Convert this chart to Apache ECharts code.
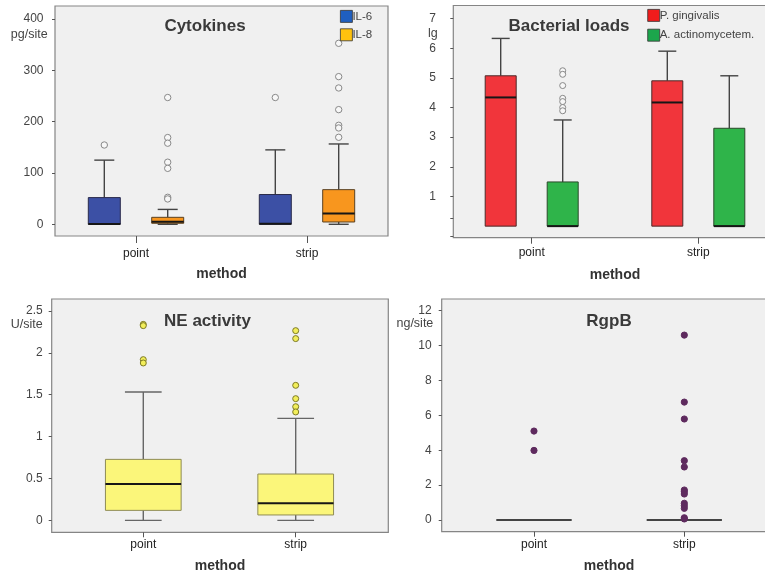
<!DOCTYPE html>
<html>
<head>
<meta charset="utf-8">
<script src="https://cdn.jsdelivr.net/npm/echarts@6/dist/echarts.min.js"></script>
<style>html,body{margin:0;padding:0;background:#fff;}#c{width:765px;height:576px;}</style>
</head>
<body>
<div id="c"></div>
<script>
// ---------- data ----------
const methods = ['point', 'strip'];
// box stats per method: [min, Q1, median, Q3, max]
// Cytokines (pg/site)
const il6Box = [[0, 0, 0.8, 52, 125], [0, 0, 1.3, 58, 145]];
const il8Box = [[0, 2, 5, 13.6, 29], [0, 4.5, 21, 67.5, 156.5]];
const il6Out = [[154.5], [247]];
const il8Out = [[247, 169, 158, 121, 109, 52.6, 49.4], [352.6, 287.7, 265.6, 223.4, 192.9, 187.7, 169.5]];
const cytoTicks = [0, 100, 200, 300, 400];
// Bacterial loads (lg)
const pgBox = [[0, 0, 4.34, 5.07, 6.33], [0, 0, 4.17, 4.9, 5.9]];
const aaBox = [[0, 0, 0, 1.49, 3.58], [0, 0, 0, 3.3, 5.07]];
const pgOut = [[], []];
const aaOut = [[5.24, 5.12, 4.74, 4.31, 4.2, 4.0, 3.89], []];
const bactLabels = [1, 2, 3, 4, 5, 6, 7];
const bactTicks = [-0.35, 0.27, 1, 2, 3, 4, 5, 6, 7];
// NE activity (U/site)
const neBox = [[0, 0.119, 0.434, 0.728, 1.533], [0, 0.064, 0.203, 0.553, 1.218]];
const neOut = [[2.34, 2.325, 1.919, 1.879], [2.265, 2.17, 1.612, 1.453, 1.357, 1.294]];
const neTicks = [0, 0.5, 1, 1.5, 2, 2.5];
// RgpB (ng/site)
const rgpBox = [[0, 0, 0, 0, 0], [0, 0, 0, 0, 0]];
const rgpOut = [[5.10, 3.99], [10.6, 6.76, 5.79, 3.4, 3.04, 1.72, 1.62, 1.49, 0.96, 0.82, 0.67, 0.13, 0.06]];
const rgpTicks = [0, 2, 4, 6, 8, 10, 12];

// ---------- helpers ----------
const FONT = 'Liberation Sans, Arial, sans-serif';
const boxData = b => b.map((s, i) => [i].concat(s));
const outData = o => [].concat(...o.map((arr, i) => arr.map(v => [i, v])));

function boxRenderer(o) {
  return function (params, api) {
    const x = api.value(0);
    const lo = api.coord([x, api.value(1)]);
    const q1 = api.coord([x, api.value(2)]);
    const md = api.coord([x, api.value(3)]);
    const q3 = api.coord([x, api.value(4)]);
    const hi = api.coord([x, api.value(5)]);
    const cx = lo[0] + o.offset, hw = o.width / 2, cw = o.cap / 2;
    const ws = { stroke: o.whisker, lineWidth: o.wlw || 1.4 };
    const ch = [];
    if (hi[1] < q3[1]) {
      ch.push({ type: 'line', shape: { x1: cx, y1: hi[1], x2: cx, y2: q3[1] }, style: ws });
      ch.push({ type: 'line', shape: { x1: cx - cw, y1: hi[1], x2: cx + cw, y2: hi[1] }, style: ws });
    }
    if (lo[1] > q1[1]) {
      ch.push({ type: 'line', shape: { x1: cx, y1: q1[1], x2: cx, y2: lo[1] }, style: ws });
      ch.push({ type: 'line', shape: { x1: cx - cw, y1: lo[1], x2: cx + cw, y2: lo[1] }, style: ws });
    }
    ch.push({ type: 'rect', shape: { x: cx - hw, y: q3[1], width: 2 * hw, height: q1[1] - q3[1] },
      style: { fill: o.fill, stroke: o.stroke, lineWidth: 1 } });
    ch.push({ type: 'line', shape: { x1: cx - hw, y1: md[1], x2: cx + hw, y2: md[1] },
      style: { stroke: o.median || '#161616', lineWidth: o.mlw || 2 } });
    return { type: 'group', children: ch };
  };
}
function dotRenderer(o) {
  return function (params, api) {
    const p = api.coord([api.value(0), api.value(1)]);
    return { type: 'circle', shape: { cx: p[0] + o.offset, cy: p[1], r: o.r },
      style: { fill: o.fill, stroke: o.stroke, lineWidth: o.lw || 1 } };
  };
}

const grids = [
  { left: 55, top: 6, width: 333, height: 230 },
  { left: 453.3, top: 5.5, width: 323.4, height: 232.2 },
  { left: 51.7, top: 299, width: 336.6, height: 233.3 },
  { left: 441.7, top: 299, width: 334.9, height: 232.7 }
].map(g => Object.assign(g, { show: true, backgroundColor: '#f0f0f0', borderColor: '#858585', borderWidth: 1.2,
  containLabel: false, outerBoundsMode: 'none' }));

function xAx(i, min, max, margin, gap, tickLen) {
  return {
    type: 'value', gridIndex: i, min: min, max: max, position: 'bottom',
    axisLine: { show: false, onZero: false }, splitLine: { show: false },
    axisTick: { show: tickLen > 0, customValues: [0, 1], length: tickLen, lineStyle: { color: '#555', width: 1 } },
    axisLabel: { customValues: [0, 1], formatter: v => methods[Math.round(v)], color: '#222', fontSize: 12,
      fontFamily: FONT, margin: margin },
    name: 'method', nameLocation: 'middle', nameGap: gap, nameMoveOverlap: false,
    nameTextStyle: { fontSize: 14, fontWeight: 'bold', color: '#333', fontFamily: FONT }
  };
}
function yAx(i, min, max, labels, ticks, margin, unit, unitGap, unitPad) {
  return {
    type: 'value', gridIndex: i, min: min, max: max, position: 'left',
    axisLine: { show: false, onZero: false }, splitLine: { show: false },
    axisTick: { show: true, customValues: ticks, length: 3, lineStyle: { color: '#555' } },
    axisLabel: { customValues: labels, color: '#444', fontSize: 12, fontFamily: FONT, margin: margin,
      showMinLabel: true, showMaxLabel: true },
    name: unit, nameLocation: 'end', nameGap: unitGap, nameMoveOverlap: false,
    nameTextStyle: { align: 'right', verticalAlign: 'middle', padding: [0, unitPad, 0, 0], color: '#444',
      fontSize: 12.5, fontFamily: FONT }
  };
}

const titleStyle = { fontSize: 17, fontWeight: 'bold', color: '#3a3a3a', fontFamily: FONT };
const mkTitle = (text, x, y) => ({ text: text, left: x, top: y, textAlign: 'center', padding: 0, textStyle: titleStyle });

const legendBase = { orient: 'vertical', icon: 'rect', itemWidth: 12, itemHeight: 12, selectedMode: false,
  padding: 0, textStyle: { fontSize: 11.5, color: '#444', fontFamily: FONT, padding: [0, 0, 0, -5] } };

const option = {
  animation: false,
  backgroundColor: '#fff',
  grid: grids,
  title: [
    mkTitle('Cytokines', 205, 17.5),
    mkTitle('Bacterial loads', 569, 17.5),
    mkTitle('NE activity', 207.5, 312.5),
    mkTitle('RgpB', 609, 312.5)
  ],
  legend: [
    Object.assign({}, legendBase, { left: 340, top: 10, itemGap: 5.6,
      data: [{ name: 'IL-6', itemStyle: { color: '#1f5fc0', borderColor: '#333', borderWidth: 0.8 } },
             { name: 'IL-8', itemStyle: { color: '#ffc20e', borderColor: '#333', borderWidth: 0.8 } }] }),
    Object.assign({}, legendBase, { left: 647.3, top: 9, itemGap: 7,
      data: [{ name: 'P. gingivalis', itemStyle: { color: '#f01c1c', borderColor: '#333', borderWidth: 0.8 } },
             { name: 'A. actinomycetem.', itemStyle: { color: '#1ca64c', borderColor: '#333', borderWidth: 0.8 } }] })
  ],
  xAxis: [
    xAx(0, -0.4737, 1.4737, 11.5, 31, 7),
    xAx(1, -0.4706, 1.4706, 9, 30, 6),
    xAx(2, -0.601, 1.6076, 6.5, 27, 5),
    xAx(3, -0.614, 1.614, 6.5, 27, 5)
  ],
  yAxis: [
    yAx(0, -22.8, 425.3, cytoTicks, cytoTicks, 11.5, 'pg/site', -28.7, 7.3),
    yAx(1, -0.39, 7.44, bactLabels, bactTicks, 17.5, 'lg', -28.3, 15.6),
    yAx(2, -0.143, 2.643, neTicks, neTicks, 9, 'U/site', -25.5, 9),
    yAx(3, -0.67, 12.67, rgpTicks, rgpTicks, 10, 'ng/site', -24.8, 8.4)
  ],
  series: [
    { type: 'custom', name: 'IL-6', xAxisIndex: 0, yAxisIndex: 0, data: boxData(il6Box), itemStyle: { color: '#3c50a5' },
      renderItem: boxRenderer({ offset: -31.7, width: 32, cap: 20, fill: '#3c50a5', stroke: '#2a2a4a', whisker: '#444' }) },
    { type: 'custom', name: 'IL-8', xAxisIndex: 0, yAxisIndex: 0, data: boxData(il8Box), itemStyle: { color: '#f8961e' },
      renderItem: boxRenderer({ offset: 31.7, width: 32, cap: 20, fill: '#f8961e', stroke: '#5a4020', whisker: '#444' }) },
    { type: 'custom', name: 'IL-6 out', xAxisIndex: 0, yAxisIndex: 0, data: outData(il6Out),
      renderItem: dotRenderer({ offset: -31.7, r: 3.2, fill: '#f7f7f7', stroke: '#888' }) },
    { type: 'custom', name: 'IL-8 out', xAxisIndex: 0, yAxisIndex: 0, data: outData(il8Out),
      renderItem: dotRenderer({ offset: 31.7, r: 3.2, fill: '#f7f7f7', stroke: '#888' }) },

    { type: 'custom', name: 'P. gingivalis', xAxisIndex: 1, yAxisIndex: 1, data: boxData(pgBox), itemStyle: { color: '#f1353b' },
      renderItem: boxRenderer({ offset: -31, width: 31, cap: 18, fill: '#f1353b', stroke: '#4a2a2a', whisker: '#444' }) },
    { type: 'custom', name: 'A. actinomycetem.', xAxisIndex: 1, yAxisIndex: 1, data: boxData(aaBox), itemStyle: { color: '#2fb44a' },
      renderItem: boxRenderer({ offset: 31, width: 31, cap: 18, fill: '#2fb44a', stroke: '#2a4a2a', whisker: '#444' }) },
    { type: 'custom', name: 'P. gingivalis out', xAxisIndex: 1, yAxisIndex: 1, data: outData(pgOut),
      renderItem: dotRenderer({ offset: -31, r: 3, fill: '#f7f7f7', stroke: '#888' }) },
    { type: 'custom', name: 'A. actinomycetem. out', xAxisIndex: 1, yAxisIndex: 1, data: outData(aaOut),
      renderItem: dotRenderer({ offset: 31, r: 3, fill: '#f7f7f7', stroke: '#888' }) },

    { type: 'custom', name: 'NE activity', xAxisIndex: 2, yAxisIndex: 2, data: boxData(neBox),
      renderItem: boxRenderer({ offset: 0, width: 75.7, cap: 36.7, fill: '#fbf67a', stroke: '#8f8c55', whisker: '#666' }) },
    { type: 'custom', name: 'NE out', xAxisIndex: 2, yAxisIndex: 2, data: outData(neOut),
      renderItem: dotRenderer({ offset: 0, r: 3, fill: '#f2ee5a', stroke: '#7d7a25' }) },

    { type: 'custom', name: 'RgpB', xAxisIndex: 3, yAxisIndex: 3, data: boxData(rgpBox),
      renderItem: boxRenderer({ offset: 0, width: 75, cap: 0, fill: '#555', stroke: '#555', whisker: '#555', median: '#444', mlw: 2 }) },
    { type: 'custom', name: 'RgpB out', xAxisIndex: 3, yAxisIndex: 3, data: outData(rgpOut),
      renderItem: dotRenderer({ offset: 0, r: 3.1, fill: '#5e2a5e', stroke: '#5e2a5e' }) }
  ]
};
const chart = echarts.init(document.getElementById('c'), null, { renderer: 'canvas' });
chart.setOption(option);
</script>
</body>
</html>
